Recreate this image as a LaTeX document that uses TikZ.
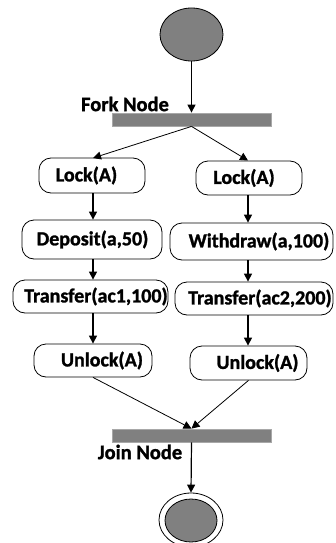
\documentclass[tikz,border=0pt]{standalone}
\usepackage{fontspec}
\setmainfont{Carlito}[BoldFeatures={FakeBold=1.3}]
\usetikzlibrary{arrows.meta,shapes.geometric}
\definecolor{fillg}{HTML}{808080}
\definecolor{barb}{HTML}{A8A8A8}
\begin{document}
\begin{tikzpicture}[x=1pt,y=-1pt,
  box/.style={draw=black,line width=0.8pt,rounded corners=12pt,inner sep=0pt,fill=white},
  txt/.style={font=\fontsize{20}{22}\selectfont\bfseries,inner sep=0pt},
  lbl/.style={font=\fontsize{20.5}{22}\selectfont\bfseries,inner sep=0pt},
  bar/.style={draw=barb,fill=fillg,line width=0.8pt,inner sep=0pt,minimum width=159pt,minimum height=13pt},
  blob/.style={ellipse,draw=black,fill=fillg,line width=0.8pt,inner sep=0pt},
  arr/.style={line width=1.2pt,-{Triangle[length=8pt,width=8pt]}},
  ln/.style={line width=0.8pt,-{Triangle[length=8pt,width=8pt]}}]
\useasboundingbox (0,0) rectangle (336,543);
\clip (0,0) rectangle (336,543);
% start
\node[blob,minimum width=63pt,minimum height=53pt] (start) at (191.5,34.5) {};
% fork
\node[bar] (fork) at (191.5,119.5) {};
\node[lbl] (forklbl) at (125,104) {Fork Node};
% left branch
\node[box,minimum width=106pt,minimum height=35pt] (l1) at (92,175.5) {};
\node[txt] (l1t) at ([xshift=-5.5pt]l1.center) {Lock(A)};
\node[box,minimum width=140pt,minimum height=39pt] (l2) at (92,239.5) {};
\node[txt] (l2t) at ([xshift=0.5pt]l2.center) {Deposit(a,50)};
\node[box,minimum width=155pt,minimum height=33pt] (l3) at (90.5,296.5) {};
\node[txt] (l3t) at ([xshift=5.5pt]l3.center) {Transfer(ac1,100)};
\node[box,minimum width=118pt,minimum height=33pt] (l4) at (93,360.5) {};
\node[txt] (l4t) at ([xshift=9pt]l4.center) {Unlock(A)};
% right branch
\node[box,minimum width=106pt,minimum height=34pt] (r1) at (249,178) {};
\node[txt] (r1t) at ([xshift=-5pt]r1.center) {Lock(A)};
\node[box,minimum width=163pt,minimum height=37pt] (r2) at (251.5,241.5) {};
\node[txt] (r2t) at ([xshift=7.5pt]r2.center) {Withdraw(a,100)};
\node[box,minimum width=158pt,minimum height=33pt] (r3) at (254,298.5) {};
\node[txt] (r3t) at ([xshift=6pt]r3.center) {Transfer(ac2,200)};
\node[box,minimum width=117pt,minimum height=34pt] (r4) at (248.5,363) {};
\node[txt] (r4t) at ([xshift=9pt]r4.center) {Unlock(A)};
% join
\node[bar] (join) at (191.5,435.5) {};
\node[lbl] (joinlbl) at (140,452) {Join Node};
% end
\node[blob,fill=white,minimum width=64pt,minimum height=54pt] (endo) at (191,520) {};
\node[blob,minimum width=52pt,minimum height=43pt] (endi) at (191,520.5) {};
% connectors
\draw[arr] (start.south) -- (fork.north);
\draw[ln] (fork.south) -- (93,158);
\draw[ln] (fork.south) -- (248,160.5);
\draw[arr] (l1.south -| 93,0) -- (l2.north -| 93,0);
\draw[arr] (l2.south -| 93,0) -- (l3.north -| 93,0);
\draw[arr] (l3.south -| 93,0) -- (l4.north -| 93,0);
\draw[arr] (r1.south -| 248,0) -- (r2.north -| 248,0);
\draw[arr] (r2.south -| 248,0) -- (r3.north -| 248,0);
\draw[arr] (r3.south -| 248,0) -- (r4.north -| 248,0);
\draw[ln] (l4.south) -- (join.north);
\draw[ln] (r4.south) -- (join.north);
\draw[arr] (join.south) -- (endo.north);
\end{tikzpicture}
\end{document}
